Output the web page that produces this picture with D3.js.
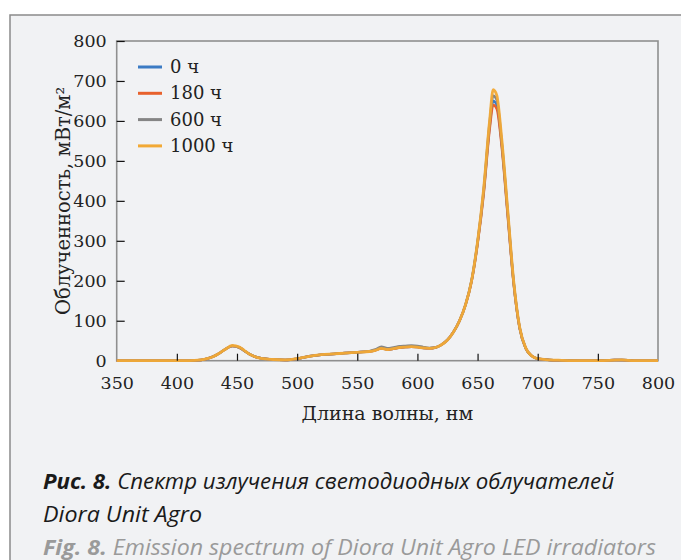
<!DOCTYPE html>
<html><head><meta charset="utf-8">
<script src="https://cdn.jsdelivr.net/npm/d3@7/dist/d3.min.js"></script>
<style>
html,body{margin:0;padding:0;background:#fff;}
svg{display:block;}
</style></head>
<body>
<script>
const wavelengths = [350,380,410,420,425,430,435,440,446,452,456,460,465,470,480,490,500,510,520,530,540,550,560,565,570,575,580,585,590,595,600,605,610,615,620,625,630,635,640,645,650,655,660,663,666,670,675,680,685,690,695,700,710,720,740,760,770,780,800];
const h0    = [0,0,0,2,5,10,18,28,37,33,25,17,10,6,3,2,5,11,15,17,19,21,23,26,31,28,30,33,34,35,34,32,31,33,40,52,72,100,140,200,295,420,585,650,640,545,370,195,82,31,12,5,2,1,0,1,2,0,0];
const h180  = [0,0,0,2,5,10,18,28,37,33,25,17,10,6,3,2,5,11,15,17,19,21,23,26,31,28,30,33,34,35,34,32,31,33,40,52,72,100,140,198,292,415,578,640,630,538,365,193,81,31,12,5,2,1,0,1,2,0,0];
const h600  = [0,0,0,2,5,10,18,28,37,33,25,17,10,6,3,2,5,11,15,17,19,21,24,28,35,31,33,36,37,38,37,34,32,33,40,52,72,100,140,200,297,425,595,663,652,550,375,197,82,31,12,5,2,1,0,1,2,0,0];
const h1000 = [0,0,0,2,5,10,18,28,38,34,26,17,10,6,3,2,5,11,15,17,19,21,23,26,31,28,30,33,34,35,34,32,31,33,40,52,72,100,140,200,298,428,600,678,664,558,380,200,84,32,12,5,2,1,0,1,2,0,0];
const seriesNames = ["0 ч","180 ч","600 ч","1000 ч"];
const seriesColors = ["#3b7bc4","#e8612c","#858585","#f2a935"];
const seriesValues = [h0,h180,h600,h1000];
const xTicks = [350,400,450,500,550,600,650,700,750,800];
const yTicks = [0,100,200,300,400,500,600,700,800];

const W=681,H=560;
const svg=d3.select("body").append("svg").attr("width",W).attr("height",H);
// frame
svg.append("rect").attr("x",10).attr("y",15).attr("width",W).attr("height",H)
  .attr("fill","#f1f2f4").attr("stroke","#8a8a8a").attr("stroke-width",1.5);

const L=116.7,R=658,T=41,B=360.7;
const x=d3.scaleLinear().domain([350,800]).range([L,R]);
const y=d3.scaleLinear().domain([0,800]).range([B,T]);

const serif="'DejaVu Serif', serif";

// plot border
svg.append("rect").attr("x",L).attr("y",T).attr("width",R-L).attr("height",B-T)
  .attr("fill","none").attr("stroke","#8f8f8f").attr("stroke-width",1.6);

// curves
const line=d3.line().x((d,i)=>x(wavelengths[i])).y(d=>y(d)).curve(d3.curveMonotoneX);
const g=svg.append("g");
seriesValues.forEach((vals,k)=>{
  g.append("path").datum(vals).attr("d",line).attr("fill","none")
   .attr("stroke",seriesColors[k]).attr("stroke-width",k===3?2.8:2.5)
   .attr("stroke-linejoin","round").attr("opacity",k===3?0.95:1);
});

// x axis
const xAxis=d3.axisBottom(x).tickValues(xTicks).tickSizeInner(-7).tickSizeOuter(0).tickPadding(16).tickFormat(d3.format("d"));
const xa=svg.append("g").attr("transform",`translate(0,${B})`).call(xAxis);
xa.select(".domain").remove();
xa.selectAll(".tick line").attr("stroke","#111").attr("stroke-width",1.2)
  .attr("display",d=>(d===350||d===800)?"none":null);
xa.selectAll("text").attr("font-family",serif).attr("font-size",17.5).attr("fill","#222");

// y axis
const yAxis=d3.axisLeft(y).tickValues(yTicks).tickSizeInner(-8).tickSizeOuter(0).tickPadding(10).tickFormat(d3.format("d"));
const ya=svg.append("g").attr("transform",`translate(${L},0)`).call(yAxis);
ya.select(".domain").remove();
ya.selectAll(".tick line").attr("stroke","#111").attr("stroke-width",1.2)
  .attr("display",d=>d===0?"none":null);
ya.selectAll("text").attr("font-family",serif).attr("font-size",17.5).attr("fill","#222");

// axis titles
svg.append("text").attr("x",(L+R)/2).attr("y",420).attr("text-anchor","middle")
  .attr("font-family",serif).attr("font-size",19).attr("fill","#222").text("Длина волны, нм");
svg.append("text").attr("transform",`translate(70,${(T+B)/2}) rotate(-90)`).attr("text-anchor","middle")
  .attr("font-family",serif).attr("font-size",19.5).attr("fill","#222").text("Облученность, мВт/м²");

// legend
const lg=svg.append("g");
seriesNames.forEach((n,k)=>{
  const yy=67+k*26.3;
  lg.append("line").attr("x1",138).attr("x2",162).attr("y1",yy).attr("y2",yy)
    .attr("stroke",seriesColors[k]).attr("stroke-width",3);
  lg.append("text").attr("x",170).attr("y",yy+6).attr("font-family",serif)
    .attr("font-size",18).attr("fill","#222").text(n);
});

// caption
const cap="'Liberation Sans Narrow','Open Sans', sans-serif";
const c1=svg.append("text").attr("x",43).attr("y",489).attr("font-family",cap).attr("font-size",22)
  .attr("font-style","italic").attr("fill","#1a1a1a").attr("textLength",571).attr("lengthAdjust","spacingAndGlyphs");
c1.append("tspan").attr("font-weight","bold").text("Рис. 8.");
c1.append("tspan").text(" Спектр излучения светодиодных облучателей");
svg.append("text").attr("x",43).attr("y",522).attr("font-family",cap).attr("font-size",22)
  .attr("font-style","italic").attr("fill","#1a1a1a").attr("textLength",159).attr("lengthAdjust","spacingAndGlyphs")
  .text("Diora Unit Agro");
const c3=svg.append("text").attr("x",43).attr("y",555).attr("font-family",cap).attr("font-size",22)
  .attr("font-style","italic").attr("fill","#9a9a9a").attr("textLength",613).attr("lengthAdjust","spacingAndGlyphs");
c3.append("tspan").attr("font-weight","bold").text("Fig. 8.");
c3.append("tspan").text(" Emission spectrum of Diora Unit Agro LED irradiators");
</script>
</body></html>
